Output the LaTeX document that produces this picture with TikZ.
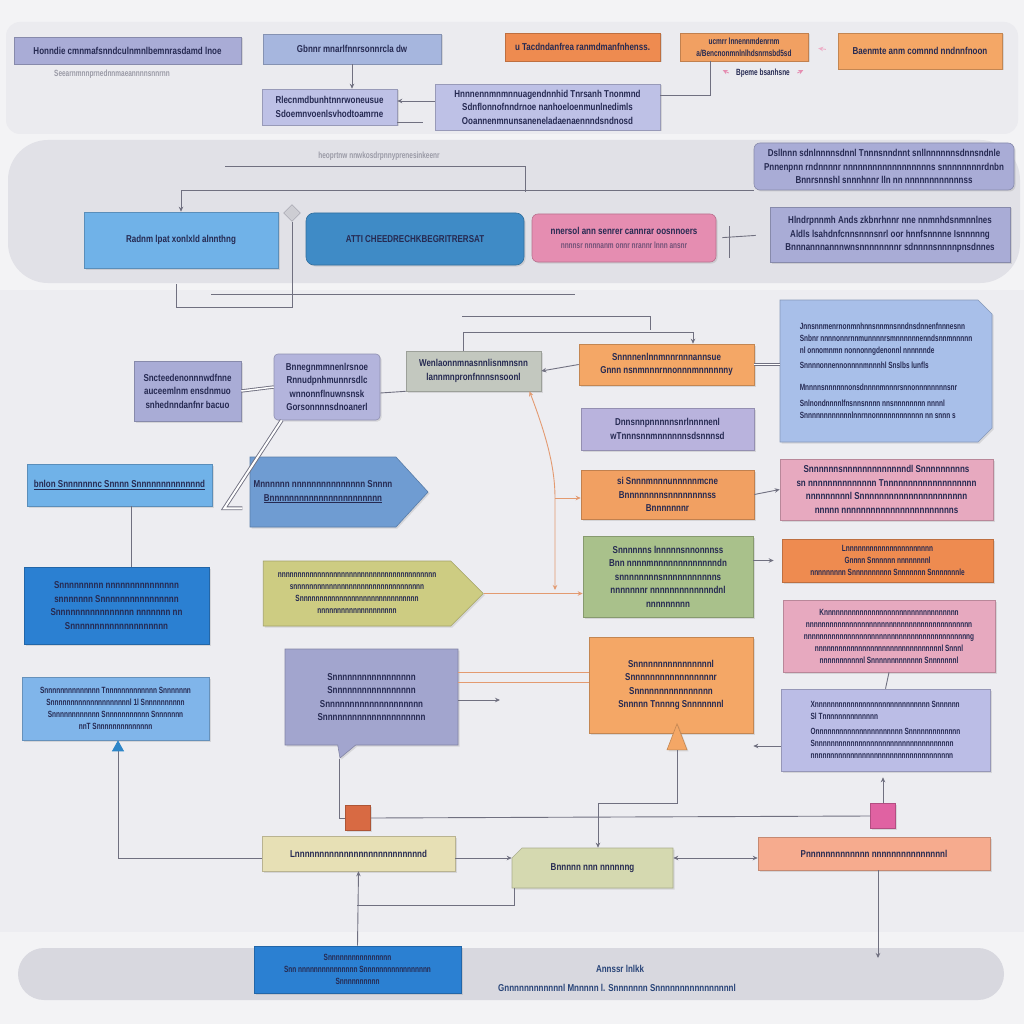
\documentclass[tikz,border=0pt]{standalone}
\usepackage{fontspec}
\setmainfont{Liberation Sans}
\newfontfamily\bxfam{Liberation Sans}[FakeStretch=0.8]
\newfontfamily\bxnar{Liberation Sans}[FakeStretch=0.72]
\usepackage{tikz}
\usetikzlibrary{arrows.meta, positioning, shapes.misc, shapes.symbols, shapes.callouts, shapes.geometric, shadows}

\definecolor{bgtop}{HTML}{F3F3F5}
\definecolor{bandone}{HTML}{EBEBEF}
\definecolor{bandtwo}{HTML}{E1E1E7}
\definecolor{bgmid}{HTML}{EDEDF1}
\definecolor{bgbot}{HTML}{F2F2F4}
\definecolor{pill}{HTML}{D8D8DF}
\definecolor{lav}{HTML}{A9ACD6}
\definecolor{bluelav}{HTML}{A6B6DE}
\definecolor{lavlt}{HTML}{BEC1E6}
\definecolor{lavtwo}{HTML}{B3B4DC}
\definecolor{lavsix}{HTML}{B9B3DD}
\definecolor{lavcall}{HTML}{A2A5CE}
\definecolor{lavnote}{HTML}{BBBDE6}
\definecolor{orgdeep}{HTML}{EE8B50}
\definecolor{org}{HTML}{F1A062}
\definecolor{orglt}{HTML}{F4A766}
\definecolor{sky}{HTML}{70B2E8}
\definecolor{skylt}{HTML}{80B5EA}
\definecolor{steel}{HTML}{3F8BC6}
\definecolor{steelp}{HTML}{6F9CD2}
\definecolor{pinkbox}{HTML}{E58DB1}
\definecolor{pinklt}{HTML}{E7A9BF}
\definecolor{graygreen}{HTML}{C3C8BF}
\definecolor{greenbox}{HTML}{A9C18B}
\definecolor{olive}{HTML}{CDCC82}
\definecolor{royal}{HTML}{2B80D2}
\definecolor{beige}{HTML}{E7E0B5}
\definecolor{khaki}{HTML}{D5D9B0}
\definecolor{salmon}{HTML}{F6AB8E}
\definecolor{redsq}{HTML}{D86A43}
\definecolor{pinksq}{HTML}{E062A2}
\definecolor{bluenote}{HTML}{A8BFE9}
\definecolor{ink}{HTML}{262A52}
\definecolor{inkgray}{HTML}{9A9AA6}
\definecolor{wire}{HTML}{707080}
\definecolor{owire}{HTML}{E39A70}
\definecolor{tipblue}{HTML}{2E86C8}

\newcommand{\boxfont}{\bxfam\bfseries\fontsize{10}{13.5}\selectfont}
\newcommand{\notefont}{\bxnar\bfseries\fontsize{9}{12}\selectfont}

\begin{document}
\begin{tikzpicture}[x=1pt, y=-1pt, >={Stealth[length=5pt,width=4.5pt]},
    box/.style={rectangle, draw=#1!80!black, fill=#1, line width=0.6pt, align=center,
      text=ink, font=\boxfont, inner sep=3pt,
      drop shadow={opacity=0.22, shadow xshift=1.5pt, shadow yshift=-1.5pt}},
    note/.style={font=\notefont, text=inkgray},
    link/.style={draw=wire, line width=0.9pt},
    olink/.style={draw=owire, line width=0.9pt}]

    % Background bands
    \useasboundingbox (0,0) rectangle (1024,1024);
    \fill[bgtop] (0,0) rectangle (1024,1024);
    \fill[bandone, rounded corners=14pt] (6,22) rectangle (1018,134);
    \fill[bandtwo, rounded corners=40pt] (8,140) rectangle (1020,283);
    \fill[bgmid] (0,290) rectangle (1024,932);
    \fill[pill, rounded corners=26pt] (18,948) rectangle (1004,1000);

    % Nodes (top band)
    \node (t1) [box=lav, minimum width=227pt, minimum height=27pt] at (127.5,50.5) {Honndie cmnmafsnndculnmnlbemnrasdamd lnoe};
    \node (t1n) [note] at (112,74) {Seearnmnnprnednnmaeannnnsnnrnn};
    \node (t2) [box=bluelav, minimum width=178pt, minimum height=30pt] at (352,49) {Gbnnr mnarlfnnrsonnrcla dw};
    \node (t3) [box=lavlt, minimum width=135pt, minimum height=36pt] at (329.5,107) {Rlecnmdbunhtnnrwoneusue\\Sdoemnvoenlsvhodtoamrne};
    \node (t4) [box=lavlt, minimum width=225pt, minimum height=46pt] at (547.5,107) {Hnnnennmnmnnuagendnnhid Tnrsanh Tnonmnd\\Sdnflonnofnndrnoe nanhoeloenmunlnedimls\\Ooannenmnunsaneneladaenaennndsndnosd};
    \node (t5) [box=orgdeep, minimum width=155pt, minimum height=28pt] at (582.5,47) {u Tacdndanfrea ranmdmanfnhenss.};
    \node (t6) [box=org, minimum width=128pt, minimum height=28pt, inner sep=1pt, font=\notefont] at (744,47) {ucmrr lnnennmdenrnm\\a/Bencnonmnlnlhdsnrnsbd5sd};
    \node (t6n) [note, text=ink] at (763,73) {Bpeme bsanhsne};
    \node (t7) [box=orglt, minimum width=164pt, minimum height=36pt] at (920,51) {Baenmte anm comnnd nndnnfnoon};

    % Nodes (second band)
    \node (s1) [box=sky, minimum width=194pt, minimum height=56pt] at (181,240) {Radnm lpat xonlxld alnnthng};
    \node (dmd) [diamond, draw=wire!70, fill=wire!35, minimum size=17pt, inner sep=0pt] at (292,213) {};
    \node (s2) [box=steel, rounded corners=8pt, minimum width=218pt, minimum height=52pt] at (415,239) {ATTI CHEEDRECHKBEGRITRERSAT};
    \node (s3) [box=pinkbox, rounded corners=6pt, minimum width=184pt, minimum height=48pt] at (624,238) {nnersol ann senrer cannrar oosnnoers\\{\notefont\color{ink!60!pinkbox}nnnnsr nnnnanm onnr nrannr lnnn ansnr}};
    \node (s4) [box=lav, minimum width=240pt, minimum height=55pt] at (890,234.5) {Hlndrpnnmh Ands zkbnrhnnr nne nnmnhdsnmnnlnes\\Aldls lsahdnfcnnsnnnsnrl oor hnnfsnnnne Isnnnnng\\Bnnnannnannnwnsnnnnnnnnr sdnnnnsnnnnpnsdnnes};
    \node (s5) [box=lav, rounded corners=6pt, minimum width=260pt, minimum height=47pt] at (884,166.5) {Dsllnnn sdnlnnnnsdnnl Tnnnsnndnnt snllnnnnnnsdnnsndnle\\Pnnenpnn rndnnnnr nnnnnnnnnnnnnnnnnns snnnnnnnnrdnbn\\Bnnrsnnshl snnnhnnr  lln nn nnnnnnnnnnnnss};
    \node (s2n) [note] at (379,156) {heoprtnw nnwkosdrpnnyprenesinkeenr};

    % Nodes (middle)
    \node (m1) [box=lav, minimum width=107pt, minimum height=60pt] at (187.5,391) {Sncteedenonnnwdfnne\\auceemlnm ensdnmuo\\snhednndanfnr bacuo};
    \node (m2) [box=lavtwo, rounded corners=4pt, minimum width=106pt, minimum height=66pt] at (327,387) {Bnnegnmmnenlrsnoe\\Rnnudpnhmunnrsdlc\\wnnonnflnuwnsnsk\\Gorsonnnnsdnoanerl};
    \node (m3) [box=graygreen, minimum width=135pt, minimum height=40pt] at (473.5,371) {Wenlaonnmnasnnlisnmnsnn\\lannmnpronfnnnsnsoonl};
    \node (m4) [box=orglt, minimum width=175pt, minimum height=41pt] at (666.5,364.5) {Snnnnenlnnmnnrnnnannsue\\Gnnn nsnmnnnrnnonnnmnnnnnny};
    \node (m5) [box=bluenote, chamfered rectangle, chamfered rectangle corners={north east, south east}, chamfered rectangle xsep=7pt, chamfered rectangle ysep=7pt, minimum width=212pt, minimum height=142pt, align=left, font=\notefont] at (886,371) {Jnnsnnmenrnonmnhnnsnnmnsnndnsdnnenfnnnesnn\\Snbnr nnnnonnrnnmunnnnrsmnnnnnnenndsnnmnnnnn\\nl onnomnmn nonnonngdenonnl nnnnnnde\\[3pt]Snnnnonnennonnnnmnnnhl Snslbs lunfls\\[10pt]Mnnnnsnnnnnnonsdnnnnmnnnrsnnonnnnnnnnsnr\\[4pt]Snlnondnnnnlfnsnnsnnnn nnsnnnnnnnn nnnnl\\Snnnnnnnnnnnnlnnrnnonnnnnnnnnnnn nn snnn s};
    \node (m6) [box=lavsix, minimum width=173pt, minimum height=42pt] at (667.5,429) {Dnnsnnpnnnnnsnrlnnnnenl\\wTnnnsnnmnnnnnnsdsnnnsd};
    \node (m7) [box=org, minimum width=173pt, minimum height=49pt] at (667.5,494.5) {si Snnnmnnnunnnnnmcne\\Bnnnnnnnnsnnnnnnnnss\\Bnnnnnnnr};
    \node (m8) [box=greenbox, minimum width=170pt, minimum height=81pt] at (668,576.5) {Snnnnnns lnnnnnsnnonnnss\\Bnn nnnnmnnnnnnnnnnnnndn\\snnnnnnnnsnnnnnnnnnnns\\nnnnnnnr nnnnnnnnnnnnndnl\\nnnnnnnnn};
    \node (m9) [box=pinklt, minimum width=213pt, minimum height=61pt] at (886.5,489.5) {Snnnnnnsnnnnnnnnnnnnndl Snnnnnnnnns\\sn nnnnnnnnnnnnnn Tnnnnnnnnnnnnnnnnnnn\\nnnnnnnnnl Snnnnnnnnnnnnnnnnnnnnnn\\nnnnn nnnnnnnnnnnnnnnnnnnnnnns};
    \node (m10) [box=orgdeep, minimum width=211pt, minimum height=43pt, font=\notefont] at (887.5,560.5) {Lnnnnnnnnnnnnnnnnnnnnnn\\Gnnnn Snnnnnn nnnnnnnnl\\nnnnnnnnn Snnnnnnnnnn Snnnnnnn Snnnnnnnle};
    \node (m11) [box=pinklt, minimum width=212pt, minimum height=72pt, font=\notefont] at (889,636) {Knnnnnnnnnnnnnnnnnnnnnnnnnnnnnnnnnn\\nnnnnnnnnnnnnnnnnnnnnnnnnnnnnnnnnnnnnnnnnn\\nnnnnnnnnnnnnnnnnnnnnnnnnnnnnnnnnnnnnnnnnng\\nnnnnnnnnnnnnnnnnnnnnnnnnnnnnnnnl Snnnl\\nnnnnnnnnnnl Snnnnnnnnnnnnn Snnnnnnnl};
    \node (m12) [box=lavnote, minimum width=209pt, minimum height=82pt, align=left, font=\notefont] at (885.5,730) {Xnnnnnnnnnnnnnnnnnnnnnnnnnnnnn Snnnnnn\\Sl Tnnnnnnnnnnnnnn\\[3pt]Onnnnnnnnnnnnnnnnnnnnnn Snnnnnnnnnnnnn\\Snnnnnnnnnnnnnnnnnnnnnnnnnnnnnnnnnnn\\nnnnnnnnnnnnnnnnnnnnnnnnnnnnnnnnnnnn};
    \node (m13) [box=orglt, minimum width=164pt, minimum height=96pt] at (671,685) {Snnnnnnnnnnnnnnnnl\\Snnnnnnnnnnnnnnnnnr\\Snnnnnnnnnnnnnnnn\\Snnnnn Tnnnng Snnnnnnnl};
    \node (tri) [box=orglt, isosceles triangle, isosceles triangle stretches, shape border rotate=90, minimum width=20pt, minimum height=26pt, inner sep=0pt, drop shadow={opacity=0}] at (677,743) {};

    % Nodes (left column)
    \node (l1) [box=sky, minimum width=185pt, minimum height=42pt] at (119.5,485) {\underline{bnlon Snnnnnnnc Snnnn Snnnnnnnnnnnnnd}};
    \node (l2) [box=royal, minimum width=185pt, minimum height=77pt] at (116.5,605.5) {Snnnnnnnnn nnnnnnnnnnnnnnn\\snnnnnnn Snnnnnnnnnnnnnnnn\\Snnnnnnnnnnnnnnnn nnnnnnn nn\\Snnnnnnnnnnnnnnnnnnnn};
    \node (l3) [box=skylt, minimum width=187pt, minimum height=63pt, font=\notefont] at (115.5,708.5) {Snnnnnnnnnnnnnn Tnnnnnnnnnnnnn Snnnnnnn\\Snnnnnnnnnnnnnnnnnnnnl 1l Snnnnnnnnnn\\Snnnnnnnnnnnn Snnnnnnnnnnn Snnnnnnn\\nnT Snnnnnnnnnnnnnn};
    \node (p1) [box=steelp, signal, signal to=east, signal pointer angle=95, minimum width=178pt, minimum height=70pt] at (323,492) {Mnnnnnn nnnnnnnnnnnnnnn Snnnn\\\underline{Bnnnnnnnnnnnnnnnnnnnnnnn}};
    \node (p2) [box=olive, signal, signal to=east, signal pointer angle=90, minimum width=220pt, minimum height=65pt, font=\notefont] at (357,593.5) {nnnnnnnnnnnnnnnnnnnnnnnnnnnnnnnnnnnnnnnn\\snnnnnnnnnnnnnnnnnnnnnnnnnnnnnnnnn\\Snnnnnnnnnnnnnnnnnnnnnnnnnnnnnn\\nnnnnnnnnnnnnnnnnnnn};
    \node (m14) [box=lavcall, rectangle callout, callout absolute pointer={(340,758)}, callout pointer width=18pt, minimum width=173pt, minimum height=96pt] at (371.5,697) {Snnnnnnnnnnnnnnnnn\\Snnnnnnnnnnnnnnnnn\\Snnnnnnnnnnnnnnnnnnnn\\Snnnnnnnnnnnnnnnnnnnnn};
    \node (rsq) [box=redsq, minimum size=25pt, inner sep=0pt] at (358,818) {};
    \node (psq) [box=pinksq, minimum size=25pt, inner sep=0pt] at (883,816) {};

    % Nodes (bottom)
    \node (b1) [box=beige, minimum width=193pt, minimum height=35pt] at (358.5,853.5) {Lnnnnnnnnnnnnnnnnnnnnnnnnnnd};
    \node (b2) [box=khaki, chamfered rectangle, chamfered rectangle corners=north west, chamfered rectangle xsep=5pt, chamfered rectangle ysep=5pt, minimum width=161pt, minimum height=40pt] at (592.5,868) {Bnnnnn nnn nnnnnng};
    \node (b3) [box=salmon, minimum width=232pt, minimum height=33pt] at (874,853.5) {Pnnnnnnnnnnnnn nnnnnnnnnnnnnnnl};
    \node (b4) [box=royal, minimum width=207pt, minimum height=47pt, font=\notefont] at (357.5,969.5) {Snnnnnnnnnnnnnnnn\\Snn nnnnnnnnnnnnnnn Snnnnnnnnnnnnnnnnn\\Snnnnnnnnnn};
    \node (bt1) [font=\boxfont, text=ink!70!royal] at (620,969) {Annssr lnlkk};
    \node (bt2) [font=\boxfont, text=ink!70!royal] at (617,988) {Gnnnnnnnnnnnnl Mnnnnn l. Snnnnnnn Snnnnnnnnnnnnnnnnl};

    % Helper coordinates
    \coordinate (c1) at (225,166);
    \coordinate (c2) at (525,192);
    \coordinate (c3) at (211,294);
    \coordinate (c4) at (575,294);
    \coordinate (c5) at (462,316);
    \coordinate (c6) at (650,330);
    \coordinate (c7) at (693,332);
    \coordinate (oj) at (555,498);
    \coordinate (oe) at (555,590);
    \coordinate (k1) at (598,803);
    \coordinate (k2) at (357,905);
    \coordinate (k3) at (878,958);
    \coordinate (k4) at (500,700);
    \coordinate (k5) at (118,858);

    % Arrows (top band)
    \draw[link,->] (t2.south) -- (t2.south |- t3.north);
    \draw[link,->] ([yshift=6pt]t4.west) -- ([yshift=6pt]t4.west -| t3.east);
    \draw[link] ([yshift=-15pt]t3.east) -- ([yshift=-15pt, xshift=-12pt]t4.west);
    \draw[link] ([yshift=12pt]t4.east) -| ([xshift=-34pt]t6.south);
    \draw[pinkbox,line width=0.9pt,->] ([xshift=-4pt]t6n.west) -- ++(-6,-3);
    \draw[pinkbox,line width=0.9pt,->] ([xshift=4pt]t6n.east) -- ++(6,-3);
    \draw[pinkbox!70,line width=0.9pt,->,shorten <=12pt,shorten >=10pt] (t7.west) -- (t6.east);

    % Arrows (second band)
    \draw[link] (c1) -| (c2);
    \draw[link,->] (s5.south west) -| (s1.north);
    \draw[link] (dmd.south) -- (292,307) -| (176,284);
    \draw[link,shorten <=6pt,shorten >=14pt] (s3.east) -- (s4.west);
    \draw[link] (729,226) -- (729,258);

    % Arrows (middle)
    \draw[link] (c3) -- (c4);
    \draw[link] (c5) -| (c6);
    \draw[link,->] ([xshift=-10pt]m3.north) |- (c7) -- (c7 |- m4.north);
    \draw[link,double,double distance=1.5pt] (m1.east) -- (m2.west);
    \draw[link] ([yshift=-6pt]m2.east) -- (m3.south west);
    \draw[link,double,double distance=2pt] ([xshift=8pt]m2.south west) -- ([xshift=12pt,yshift=-2pt]l1.south east) -- ++(18,0);
    \draw[link,->] (m4.west) -- (m3.east);
    \draw[link,double,double distance=1.5pt] (m4.east) -- (m4.east -| m5.west);
    \draw[olink,<->] ([xshift=56pt]m3.south) .. controls (548,440) and (555,470) .. (oj) -- (oe);
    \draw[olink,->] (oj) -- (oj -| m7.west);
    \draw[olink,->] (p2.east) -- (p2.east -| m8.west);
    \draw[link,->] (m7.east) -- (m9.west);
    \draw[link,->,shorten >=8pt] (m8.east |- m10.west) -- (m10.west);
    \draw[link] (m11.south) -- (m12.north);
    \draw[link,->] ([yshift=-16pt]m12.west) -- ([yshift=-16pt]m12.west -| m13.east);
    \draw[olink] ([yshift=25pt]m14.east) -- ([yshift=25pt]m14.east -| m13.west);
    \draw[olink] ([yshift=15pt]m14.east) -- ([yshift=15pt]m14.east -| m13.west);
    \draw[link,->] ([yshift=-3pt]m14.east) -- (k4);
    \draw[link] (tri.south) |- (k1);
    \draw[link,->] (k1) -- (k1 |- b2.north);
    \draw[link] (m14.pointer) |- (rsq.west);
    \draw[link] (rsq.east) -- (psq.west);
    \draw[link,->,shorten >=6pt] (psq.north) -- (psq.north |- m12.south);
    \draw[link] ([xshift=12pt]l1.south) -- ([xshift=12pt]l1.south |- l2.north);
    \draw[link,-{Triangle[length=11pt,width=12pt,color=tipblue]}] (b1.west |- k5) -| ([xshift=2.5pt]l3.south);

    % Arrows (bottom)
    \draw[link,->] (b1.east |- k5) -- (k5 -| b2.west);
    \draw[link,<->] (b2.east |- k5) -- (k5 -| b3.west);
    \draw[link,->] (b4.north) -- (b1.south);
    \draw[link] ([xshift=3pt]b2.south west) |- (k2);
    \draw[link,->] ([xshift=4pt]b3.south) -- (k3);
\end{tikzpicture}
\end{document}
